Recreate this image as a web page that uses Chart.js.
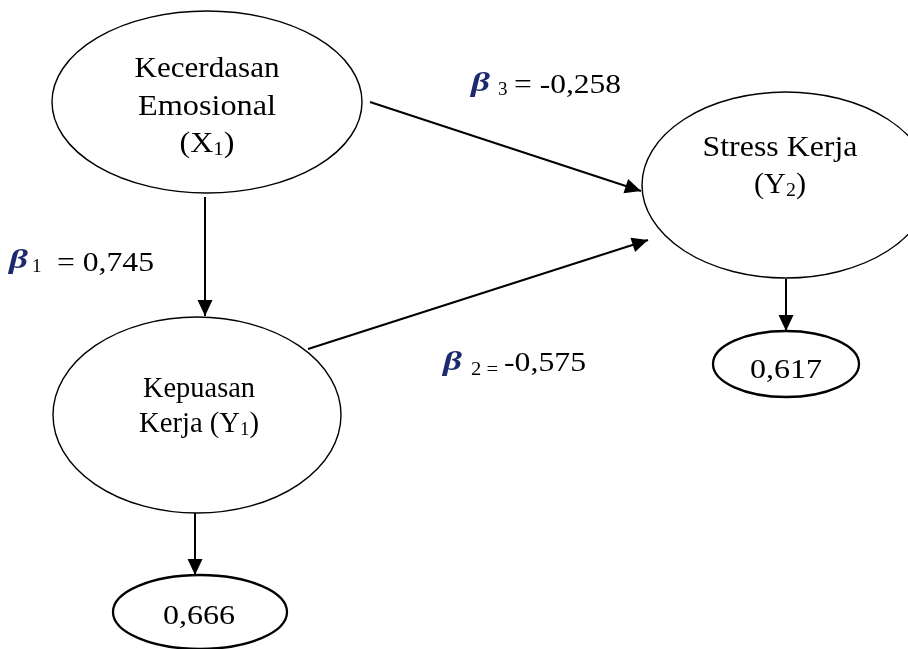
<!DOCTYPE html>
<html>
<head>
<meta charset="utf-8">
<script src="https://cdn.jsdelivr.net/npm/chart.js@4.4.0/dist/chart.umd.min.js"></script>
<style>
  html, body { margin: 0; padding: 0; background: #fff; }
  #wrap { width: 908px; height: 649px; }
</style>
</head>
<body>
<div id="wrap"><canvas id="pathChart"></canvas></div>
<script>
// constructs of the model (underscore = subscript)
const constructs = ['X1', 'Y1', 'Y2']
const nodeLines = [
  ['Kecerdasan', 'Emosional', '(X_1)'],
  ['Kepuasan', 'Kerja (Y_1)'],
  ['Stress Kerja', '(Y_2)']
]
// path coefficients
const betaIndex = ['1', '2', '3']
const betaValues = [0.745, -0.575, -0.258]
// R square of the endogenous constructs
const r2Targets = ['Y1', 'Y2']
const r2Values = [0.666, 0.617]

// layout on the canvas (chart units, 1 unit = 1px)
const nodeLayout = {
  X1: { cx: 207, cy: 102, rx: 155, ry: 91, tx: 207, ty: [77, 115, 152], w: [145, 138, 55] },
  Y1: { cx: 197, cy: 415, rx: 144, ry: 98, tx: 199, ty: [397, 432], w: [112, 120] },
  Y2: { cx: 786, cy: 185, rx: 144, ry: 93, tx: 780, ty: [156, 193], w: [155, 52] }
}
const r2Layout = {
  Y1: { cx: 200, cy: 612, rx: 87, ry: 37, tx: 199, ty: 624, w: 72 },
  Y2: { cx: 786, cy: 364, rx: 73, ry: 33, tx: 786, ty: 378, w: 72 }
}
const arrowLayout = [
  { start: [205, 197], tip: [205, 316] },
  { start: [308, 349], tip: [648, 240] },
  { start: [370, 102], tip: [641, 191] },
  { start: [195, 513], tip: [195, 575] },
  { start: [786, 279], tip: [786, 331] }
]
// beta label pieces: beta sign, small index, value part
const betaLayout = [
  { bx: 9, by: 268, sx: 32, sy: 272, sw: null, vx: 57, vy: 271, vw: 97, eqSmall: false },
  { bx: 443, by: 370, sx: 471, sy: 375, sw: 27, vx: 504, vy: 371, vw: 82, eqSmall: true },
  { bx: 471, by: 91, sx: 498, sy: 95, sw: null, vx: 514, vy: 93, vw: 107, eqSmall: false }
]

const SERIF = "'Liberation Serif', 'Times New Roman', serif"
const FONT = '29px ' + SERIF
const NUM = '28px ' + SERIF
const SUB = '19px ' + SERIF
const BETA = 'italic bold 28px ' + SERIF

function fmt(v) { return v.toFixed(3).replace('.', ',') }

function parseRuns(str) {
  let runs = []
  let parts = str.split('_')
  runs.push({ t: parts[0], font: FONT })
  for (let i = 1; i < parts.length; i++) {
    runs.push({ t: parts[i][0], font: SUB, dy: 3 })
    if (parts[i].length > 1) runs.push({ t: parts[i].slice(1), font: FONT })
  }
  return runs
}

function inkWidth(ctx, r) {
  ctx.font = r.font
  return ctx.measureText(r.t).width
}

// draw a row of runs, squeezed/stretched horizontally to a target width
function drawRuns(ctx, runs, x, y, align, target) {
  let w = runs.reduce((s, r) => s + inkWidth(ctx, r), 0)
  let k = target ? target / w : 1
  let cx = align === 'center' ? x - (w * k) / 2 : x
  runs.forEach(r => {
    let rw = inkWidth(ctx, r) * k
    ctx.save()
    ctx.font = r.font
    ctx.fillStyle = r.color || '#000'
    ctx.textBaseline = 'alphabetic'
    ctx.translate(cx, y + (r.dy || 0))
    ctx.scale(k, 1)
    ctx.fillText(r.t, 0, 0)
    ctx.restore()
    cx += rw
  })
}

function px(chart, x, y) {
  return [chart.scales.x.getPixelForValue(x), chart.scales.y.getPixelForValue(y)]
}

function drawEllipse(chart, e, lw) {
  const ctx = chart.ctx
  let [cx, cy] = px(chart, e.cx, e.cy)
  let rx = chart.scales.x.getPixelForValue(e.cx + e.rx) - cx
  let ry = chart.scales.y.getPixelForValue(e.cy + e.ry) - cy
  ctx.save()
  ctx.beginPath()
  ctx.ellipse(cx, cy, Math.abs(rx), Math.abs(ry), 0, 0, Math.PI * 2)
  ctx.fillStyle = '#fff'
  ctx.fill()
  ctx.lineWidth = lw
  ctx.strokeStyle = '#000'
  ctx.stroke()
  ctx.restore()
}

const diagramPlugin = {
  id: 'diagram',
  beforeDraw(chart) {
    const ctx = chart.ctx
    ctx.save()
    ctx.fillStyle = '#fff'
    ctx.fillRect(0, 0, chart.width, chart.height)
    ctx.restore()
  },
  beforeDatasetsDraw(chart) {
    constructs.forEach(c => drawEllipse(chart, nodeLayout[c], 1.4))
    r2Targets.forEach(c => drawEllipse(chart, r2Layout[c], 2.3))
  },
  afterDatasetsDraw(chart) {
    const ctx = chart.ctx
    // arrow heads
    chart.data.datasets.forEach(ds => {
      let a = ds.data[0], b = ds.data[1]
      let [x0, y0] = px(chart, a.x, a.y)
      let [x1, y1] = px(chart, b.x, b.y)
      let ang = Math.atan2(y1 - y0, x1 - x0)
      let len = 16, half = 7.5
      ctx.save()
      ctx.translate(x1, y1)
      ctx.rotate(ang)
      ctx.beginPath()
      ctx.moveTo(0, 0)
      ctx.lineTo(-len, -half)
      ctx.lineTo(-len, half)
      ctx.closePath()
      ctx.fillStyle = '#000'
      ctx.fill()
      ctx.restore()
    })
    // construct names
    constructs.forEach((c, i) => {
      let L = nodeLayout[c]
      nodeLines[i].forEach((line, j) => {
        let [x, y] = px(chart, L.tx, L.ty[j])
        drawRuns(ctx, parseRuns(line), x, y, 'center', L.w[j])
      })
    })
    // R square values
    r2Targets.forEach((c, i) => {
      let L = r2Layout[c]
      let [x, y] = px(chart, L.tx, L.ty)
      drawRuns(ctx, [{ t: fmt(r2Values[i]), font: NUM }], x, y, 'center', L.w)
    })
    // beta labels
    betaValues.forEach((v, i) => {
      let L = betaLayout[i]
      let [bx, by] = px(chart, L.bx, L.by)
      drawRuns(ctx, [{ t: 'β', font: BETA, color: '#1d2b6e' }], bx, by, 'left', 19)
      let [sx, sy] = px(chart, L.sx, L.sy)
      let subText = L.eqSmall ? betaIndex[i] + ' =' : betaIndex[i]
      drawRuns(ctx, [{ t: subText, font: SUB }], sx, sy, 'left', L.sw)
      let [vx, vy] = px(chart, L.vx, L.vy)
      let valText = L.eqSmall ? fmt(v) : '= ' + fmt(v)
      drawRuns(ctx, [{ t: valText, font: NUM }], vx, vy, 'left', L.vw)
    })
  }
}

const datasets = arrowLayout.map(a => ({
  data: [{ x: a.start[0], y: a.start[1] }, { x: a.tip[0], y: a.tip[1] }],
  showLine: true,
  borderColor: '#000',
  borderWidth: 2,
  borderCapStyle: 'butt',
  pointRadius: 0,
  fill: false
}))

new Chart(document.getElementById('pathChart').getContext('2d'), {
  type: 'scatter',
  data: { datasets: datasets },
  options: {
    responsive: true,
    maintainAspectRatio: false,
    animation: false,
    layout: { padding: 0 },
    plugins: { legend: { display: false }, tooltip: { enabled: false } },
    events: [],
    scales: {
      x: { type: 'linear', min: 0, max: 908, display: false },
      y: { type: 'linear', min: 0, max: 649, reverse: true, display: false }
    }
  },
  plugins: [diagramPlugin]
})
</script>
</body>
</html>
